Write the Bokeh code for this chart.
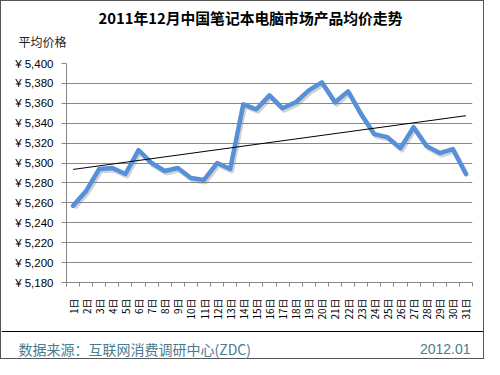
import numpy as np
from bokeh.plotting import figure
from bokeh.layouts import column
from bokeh.models import Span, FixedTicker, Range1d, ColumnDataSource
from bokeh.core.properties import value
from bokeh.transform import dodge
from bokeh.embed import file_html
from bokeh.resources import INLINE

title_text = "2011年12月中国笔记本电脑市场产品均价走势"
y_title = "平均价格"
source_text = "数据来源：互联网消费调研中心(ZDC)"
date_text = "2012.01"

days = [1, 2, 3, 4, 5, 6, 7, 8, 9, 10, 11, 12, 13, 14, 15, 16,
        17, 18, 19, 20, 21, 22, 23, 24, 25, 26, 27, 28, 29, 30, 31]
day_labels = ["1日", "2日", "3日", "4日", "5日", "6日", "7日", "8日", "9日", "10日",
              "11日", "12日", "13日", "14日", "15日", "16日", "17日", "18日", "19日", "20日",
              "21日", "22日", "23日", "24日", "25日", "26日", "27日", "28日", "29日", "30日", "31日"]
prices = [5257, 5272, 5294, 5295, 5289, 5313, 5300, 5292, 5295, 5285,
          5283, 5300, 5294, 5359, 5354, 5368, 5355, 5361, 5373, 5381,
          5361, 5372, 5349, 5329, 5326, 5315, 5336, 5317, 5310, 5314, 5289]
y_ticks = [5180, 5200, 5220, 5240, 5260, 5280, 5300, 5320, 5340, 5360, 5380, 5400]

W = 482


def blank(h):
    fig = figure(width=W, height=h, output_backend="svg", toolbar_location=None,
                 x_range=Range1d(0, W), y_range=Range1d(0, h),
                 min_border_left=0, min_border_right=0, min_border_top=0, min_border_bottom=0)
    fig.axis.visible = False
    fig.grid.visible = False
    fig.outline_line_color = None
    return fig


# header with the title and the value caption
HH = 52
hdr = blank(HH)
hdr.text(x=[249], y=[HH - 16], text=[title_text], text_align="center", text_baseline="middle",
         text_font=value("Noto Sans CJK SC"), text_font_style="bold", text_font_size="14.8px",
         text_color="#000000")
hdr.text(x=[17], y=[HH - 40], text=[y_title], text_align="left", text_baseline="middle",
         text_font=value("Noto Sans CJK SC"), text_font_size="12px", text_color="#222222")

# main chart
MH = 326 - HH
p = figure(width=W, height=MH, output_backend="svg", toolbar_location=None,
           x_range=Range1d(0.5, 31.5), y_range=Range1d(5180, 5400),
           min_border_left=65, min_border_right=11, min_border_top=10, min_border_bottom=45)
p.outline_line_color = None
p.background_fill_color = "white"
p.border_fill_color = "white"

grid_col = "#878787"
p.xgrid.grid_line_color = None
p.ygrid.grid_line_color = grid_col
p.ygrid.ticker = FixedTicker(ticks=y_ticks)

p.yaxis.ticker = FixedTicker(ticks=y_ticks)
p.yaxis.major_label_overrides = {t: f"¥ {t:,}" for t in y_ticks}
p.yaxis.axis_line_color = grid_col
p.yaxis.major_tick_line_color = grid_col
p.yaxis.major_tick_out = 5
p.yaxis.major_tick_in = 0
p.yaxis.minor_tick_line_color = None
p.yaxis.major_label_standoff = 8
p.yaxis.major_label_text_font = "Liberation Sans"
p.yaxis.major_label_text_font_size = "11.5px"
p.yaxis.major_label_text_color = "#000000"

minor = [d - 0.5 for d in days] + [days[-1] + 0.5]
p.xaxis.ticker = FixedTicker(ticks=days, minor_ticks=minor)
p.xaxis.major_label_overrides = dict(zip(days, day_labels))
p.xaxis.axis_line_color = grid_col
p.xaxis.major_tick_line_color = None
p.xaxis.major_tick_out = 0
p.xaxis.major_tick_in = 0
p.xaxis.minor_tick_line_color = grid_col
p.xaxis.minor_tick_out = 4
p.xaxis.minor_tick_in = 0
p.xaxis.major_label_orientation = np.pi / 2
p.xaxis.major_label_standoff = 12
p.xaxis.major_label_text_font = "Noto Sans CJK SC"
p.xaxis.major_label_text_font_size = "10px"
p.xaxis.major_label_text_color = "#000000"

src = ColumnDataSource(dict(x=days, y=prices))
# drop shadow
p.line(x=dodge("x", 0.12, range=p.x_range), y=dodge("y", -2.2, range=p.y_range), source=src,
       line_color="#7f7f7f", line_alpha=0.35, line_width=4.5, line_join="round")
p.line("x", "y", source=src, line_color="#5590D8", line_width=4.5, line_join="round", line_cap="round")

# linear trend line
k, b = np.polyfit(days, prices, 1)
tx = [days[0], days[-1]]
p.line(tx, [k * tx[0] + b, k * tx[1] + b], line_color="#000000", line_width=1)

# footer
FH = 357 - 326
f = blank(FH)
f.add_layout(Span(location=FH - 4, dimension="width", line_color="#000000", line_width=1))
f.text(x=[17], y=[10], text=[source_text], text_align="left", text_baseline="middle",
       text_font=value("Noto Sans CJK SC"), text_font_size="14px", text_color="#4A7C90")
f.text(x=[469], y=[10], text=[date_text], text_align="right", text_baseline="middle",
       text_font=value("Liberation Sans"), text_font_size="14px", text_color="#4A7C90")

for fig in (hdr, p, f):
    if "frame_align" in fig.properties():
        fig.frame_align = False

lay = column(hdr, p, f, spacing=0, styles={"border": "1px solid #555555"})

open("out.html", "w").write(file_html(lay, INLINE))
